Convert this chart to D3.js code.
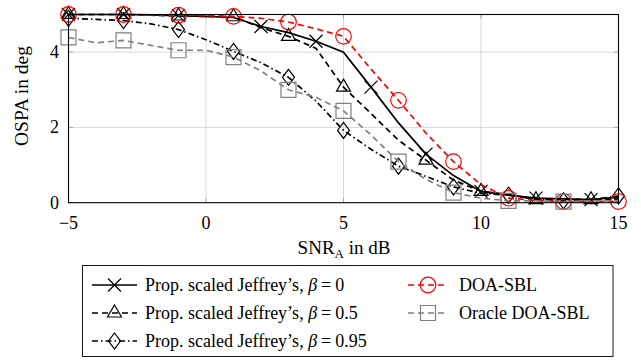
<!DOCTYPE html>
<html>
<head>
<meta charset="utf-8">
<script src="https://cdn.jsdelivr.net/npm/d3@7"></script>
<style>
  body { margin: 0; background: #fff; }
  svg { display: block; font-family: "Liberation Serif", "Times New Roman", serif; }
</style>
</head>
<body>
<div id="chart"></div>
<script>
const snr = [-5, -4, -3, -2, -1, 0, 1, 2, 3, 4, 5, 6, 7, 8, 9, 10, 11, 12, 13, 14, 15];

const beta0   = [5.0, 5.0, 5.0, 4.99, 4.97, 4.95, 4.92, 4.68, 4.52, 4.29, 4.0, 3.07, 2.12, 1.29, 0.72, 0.3, 0.2, 0.12, 0.1, 0.08, 0.15];
const beta05  = [5.0, 5.0, 5.0, 4.98, 4.96, 4.95, 4.94, 4.65, 4.42, 4.1, 3.07, 2.37, 1.66, 1.13, 0.6, 0.3, 0.22, 0.08, 0.1, 0.08, 0.1];
const beta095 = [4.9, 4.87, 4.84, 4.75, 4.6, 4.33, 4.02, 3.72, 3.33, 2.7, 1.92, 1.42, 0.97, 0.7, 0.42, 0.25, 0.2, 0.1, 0.05, 0.08, 0.18];
const doaSbl  = [5.0, 5.0, 5.0, 4.99, 4.98, 4.97, 4.95, 4.9, 4.8, 4.62, 4.42, 3.55, 2.72, 1.85, 1.09, 0.48, 0.12, 0.06, 0.03, 0.04, 0.03];
const oracle  = [4.39, 4.25, 4.31, 4.18, 4.05, 4.05, 3.87, 3.5, 3.0, 2.8, 2.44, 1.8, 1.09, 0.62, 0.27, 0.12, 0.05, 0.05, 0.03, 0.05, 0.05];

// where the marks sit on each curve
const marksBeta0   = [-5, -3, -1, 2, 4, 6, 8, 10, 12, 14];
const marksBeta05  = [-5, -3, -1, 1, 3, 5, 8, 10, 12, 14];
const marksBeta095 = [-5, -3, -1, 1, 3, 5, 7, 9, 11, 13, 15];
const marksDoa     = [-5, -3, -1, 1, 3, 5, 7, 9, 11, 13, 15];
const marksOracle  = [-5, -3, -1, 1, 3, 5, 7, 9, 11, 13];

const xTicks = [-5, 0, 5, 10, 15];
const yTicks = [0, 2, 4];

const series = [
    { label: "Prop. scaled Jeffrey\u2019s, ", beta: "0",    ys: beta0,   marks: marksBeta0,   color: "#000",    dash: null,        mark: "cross" },
    { label: "Prop. scaled Jeffrey\u2019s, ", beta: "0.5",  ys: beta05,  marks: marksBeta05,  color: "#000",    dash: "6,4",       mark: "triangle" },
    { label: "Prop. scaled Jeffrey\u2019s, ", beta: "0.95", ys: beta095, marks: marksBeta095, color: "#000",    dash: "6,3,1.5,3", mark: "diamond" },
    { label: "DOA-SBL",        beta: null, ys: doaSbl, marks: marksDoa,    color: "#ff0000", dash: "6,4", mark: "circle" },
    { label: "Oracle DOA-SBL", beta: null, ys: oracle, marks: marksOracle, color: "#808080", dash: "6,4", mark: "square" }
];

const width = 641, height = 360;
const plot = { left: 68.5, right: 618.5, top: 14.5, bottom: 202.7 };

const svg = d3.select("#chart").append("svg")
    .attr("width", width)
    .attr("height", height);

const x = d3.scaleLinear().domain([-5, 15]).range([plot.left, plot.right]);
const y = d3.scaleLinear().domain([0, 5]).range([plot.bottom, plot.top]);

// grid
svg.append("g").selectAll("line")
    .data(xTicks.slice(1, -1))
    .join("line")
    .attr("x1", d => x(d)).attr("x2", d => x(d))
    .attr("y1", plot.top).attr("y2", plot.bottom)
    .attr("stroke", "#cfcfcf").attr("stroke-width", 0.8);

svg.append("g").selectAll("line")
    .data(yTicks.slice(1))
    .join("line")
    .attr("x1", plot.left).attr("x2", plot.right)
    .attr("y1", d => y(d)).attr("y2", d => y(d))
    .attr("stroke", "#cfcfcf").attr("stroke-width", 0.8);

// inward ticks on all four sides
const tl = 4.5;
const ticks = svg.append("g").attr("stroke", "#9a9a9a").attr("stroke-width", 0.8);
xTicks.forEach(t => {
    ticks.append("line").attr("x1", x(t)).attr("x2", x(t)).attr("y1", plot.bottom).attr("y2", plot.bottom - tl);
    ticks.append("line").attr("x1", x(t)).attr("x2", x(t)).attr("y1", plot.top).attr("y2", plot.top + tl);
});
yTicks.forEach(t => {
    ticks.append("line").attr("x1", plot.left).attr("x2", plot.left + tl).attr("y1", y(t)).attr("y2", y(t));
    ticks.append("line").attr("x1", plot.right).attr("x2", plot.right - tl).attr("y1", y(t)).attr("y2", y(t));
});

// tick labels
svg.append("g").selectAll("text")
    .data(xTicks)
    .join("text")
    .attr("x", d => x(d))
    .attr("y", plot.bottom + 26)
    .attr("text-anchor", "middle")
    .style("font-size", "18px")
    .text(d => d < 0 ? "\u2212" + Math.abs(d) : d);

svg.append("g").selectAll("text")
    .data(yTicks)
    .join("text")
    .attr("x", 59)
    .attr("y", d => y(d) + 6)
    .attr("text-anchor", "end")
    .style("font-size", "18px")
    .text(d => d);

// axis labels
const xl = svg.append("text")
    .attr("x", 344)
    .attr("y", 253.5)
    .attr("text-anchor", "middle")
    .style("font-size", "19px");
xl.append("tspan").text("SNR");
xl.append("tspan").attr("dy", 4).style("font-size", "13px").text("A");
xl.append("tspan").attr("dy", -4).text(" in dB");

svg.append("text")
    .attr("transform", `translate(28, 96) rotate(-90)`)
    .attr("text-anchor", "middle")
    .style("font-size", "19.5px")
    .text("OSPA in deg");

// curves
const line = d3.line()
    .x((d, i) => x(snr[i]))
    .y(d => y(d));

const markPath = {
    cross:    "M-6.5,-6.5L6.5,6.5M-6.5,6.5L6.5,-6.5",
    triangle: "M0,-8L7,4L-7,4Z",
    diamond:  "M0,-8L6,0L0,8L-6,0Z",
    square:   "M-7.5,-7.5H7.5V7.5H-7.5Z"
};

function drawMark(g, kind, cx, cy, color) {
    if (kind === "circle") {
        g.append("circle").attr("cx", cx).attr("cy", cy).attr("r", 7.8)
            .attr("fill", "none").attr("stroke", color).attr("stroke-width", 1.2);
    } else {
        g.append("path").attr("d", markPath[kind])
            .attr("transform", `translate(${cx},${cy})`)
            .attr("fill", "none").attr("stroke", color).attr("stroke-width", 1.2);
    }
}

const curves = svg.append("g");
series.forEach(s => {
    curves.append("path")
        .attr("d", line(s.ys))
        .attr("fill", "none")
        .attr("stroke", s.color)
        .attr("stroke-width", 1.7)
        .attr("stroke-dasharray", s.dash);
    const g = curves.append("g");
    s.marks.forEach(m => {
        const i = snr.indexOf(m);
        drawMark(g, s.mark, x(m), y(s.ys[i]), s.color);
    });
});

// frame
svg.append("rect")
    .attr("x", plot.left).attr("y", plot.top)
    .attr("width", plot.right - plot.left).attr("height", plot.bottom - plot.top)
    .attr("fill", "none").attr("stroke", "#000").attr("stroke-width", 1.1);

// legend
const legend = svg.append("g");
legend.append("rect")
    .attr("x", 82.5).attr("y", 265.5)
    .attr("width", 530.5).attr("height", 91)
    .attr("fill", "#fff").attr("stroke", "#000").attr("stroke-width", 0.9);

const legendPos = [
    { sx: 92, row: 0 }, { sx: 92, row: 1 }, { sx: 92, row: 2 },
    { sx: 408, row: 0 }, { sx: 408, row: 1 }
];
const rowY = [285, 313, 341];

series.forEach((s, i) => {
    const p = legendPos[i];
    const cy = rowY[p.row];
    const sw = i < 3 ? 45 : 40;
    const row = legend.append("g");
    row.append("line")
        .attr("x1", p.sx).attr("x2", p.sx + sw)
        .attr("y1", cy).attr("y2", cy)
        .attr("stroke", s.color)
        .attr("stroke-width", 1.7)
        .attr("stroke-dasharray", s.dash);
    drawMark(row, s.mark, p.sx + sw / 2, cy, s.color);
    const t = row.append("text")
        .attr("x", i < 3 ? 145 : 459)
        .attr("y", cy + 6)
        .style("font-size", "18px");
    t.append("tspan").text(s.label);
    if (s.beta !== null) {
        t.append("tspan").style("font-style", "italic").text("\u03b2");
        t.append("tspan").attr("dx", 4).text("=");
        t.append("tspan").attr("dx", 4).text(s.beta);
    }
});
</script>
</body>
</html>
